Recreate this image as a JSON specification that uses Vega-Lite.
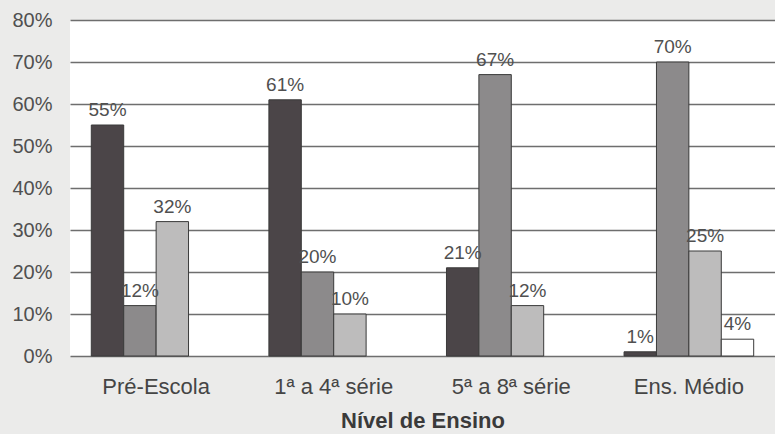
{
  "$schema": "https://vega.github.io/schema/vega-lite/v6.json",
  "autosize": {"type": "none"},
  "width": 705,
  "height": 336,
  "padding": {"left": 70, "top": 20, "right": 0, "bottom": 78},
  "background": "#ebebea",
  "config": {
    "font": "Liberation Sans",
    "view": {"fill": "#ffffff", "stroke": null}
  },
  "data": {
    "values": [
      {"nivel": "Pré-Escola", "serie": "A", "valor": 0.55},
      {"nivel": "Pré-Escola", "serie": "B", "valor": 0.12},
      {"nivel": "Pré-Escola", "serie": "C", "valor": 0.32},
      {"nivel": "1ª a 4ª série", "serie": "A", "valor": 0.61},
      {"nivel": "1ª a 4ª série", "serie": "B", "valor": 0.20},
      {"nivel": "1ª a 4ª série", "serie": "C", "valor": 0.10},
      {"nivel": "5ª a 8ª série", "serie": "A", "valor": 0.21},
      {"nivel": "5ª a 8ª série", "serie": "B", "valor": 0.67},
      {"nivel": "5ª a 8ª série", "serie": "C", "valor": 0.12},
      {"nivel": "Ens. Médio", "serie": "A", "valor": 0.01},
      {"nivel": "Ens. Médio", "serie": "B", "valor": 0.70},
      {"nivel": "Ens. Médio", "serie": "C", "valor": 0.25},
      {"nivel": "Ens. Médio", "serie": "D", "valor": 0.04}
    ]
  },
  "encoding": {
    "x": {
      "field": "nivel",
      "type": "nominal",
      "sort": ["Pré-Escola", "1ª a 4ª série", "5ª a 8ª série", "Ens. Médio"],
      "scale": {"paddingInner": 0.27, "paddingOuter": 0.12},
      "axis": {
        "title": "Nível de Ensino",
        "titleFont": "Liberation Sans",
        "titleFontSize": 22,
        "titleFontWeight": "bold",
        "titleColor": "#3a3a3a",
        "titlePadding": 13,
        "labelAngle": 0,
        "labelFontSize": 22,
        "labelColor": "#454545",
        "labelPadding": 20,
        "ticks": false,
        "domain": false,
        "grid": false
      }
    },
    "xOffset": {"field": "serie", "type": "nominal", "sort": ["A", "B", "C", "D"], "scale": {"domain": ["A", "B", "C", "D"]}},
    "y": {
      "field": "valor",
      "type": "quantitative",
      "scale": {"domain": [0, 0.8], "nice": false},
      "axis": {
        "title": null,
        "format": ".0%",
        "values": [0, 0.1, 0.2, 0.3, 0.4, 0.5, 0.6, 0.7, 0.8],
        "labelFontSize": 20,
        "labelColor": "#505050",
        "labelPadding": 18,
        "ticks": false,
        "domain": false,
        "gridColor": "#6e6e6e",
        "gridWidth": 1.6
      }
    }
  },
  "layer": [
    {
      "mark": {"type": "bar", "stroke": "#3a3a3a", "strokeWidth": 1},
      "encoding": {
        "color": {
          "field": "serie",
          "type": "nominal",
          "scale": {"domain": ["A", "B", "C", "D"], "range": ["#4b4548", "#8c8a8b", "#bdbcbc", "#ffffff"]},
          "legend": null
        }
      }
    },
    {
      "mark": {"type": "text", "baseline": "alphabetic", "dy": -9, "fontSize": 19, "color": "#505050"},
      "encoding": {
        "text": {"field": "valor", "type": "quantitative", "format": ".0%"}
      }
    }
  ]
}
